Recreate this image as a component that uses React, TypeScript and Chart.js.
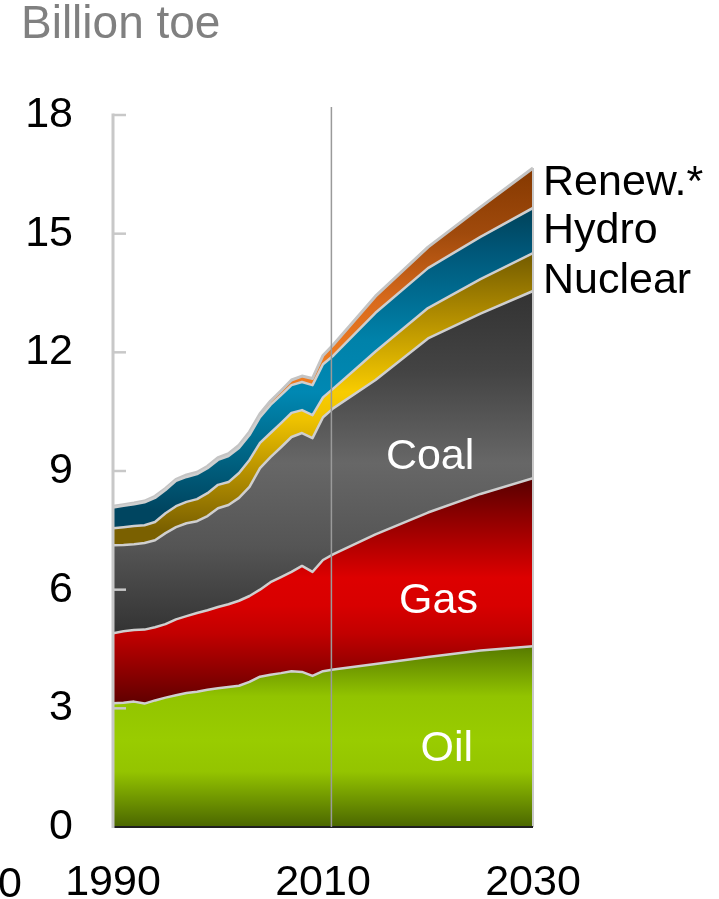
import React, { useEffect, useRef } from "react";
import { Chart, registerables } from "chart.js";

Chart.register(...registerables);

// ---------- data (billion toe) ----------
const years = [1990, 1991, 1992, 1993, 1994, 1995, 1996, 1997, 1998, 1999, 2000, 2001, 2002, 2003, 2004, 2005, 2006, 2007, 2008, 2009, 2010, 2011, 2015, 2020, 2025, 2030];
const oil = [3.13, 3.14, 3.17, 3.12, 3.2, 3.27, 3.33, 3.39, 3.42, 3.47, 3.51, 3.54, 3.57, 3.67, 3.8, 3.85, 3.89, 3.94, 3.92, 3.82, 3.94, 3.98, 4.12, 4.3, 4.46, 4.57];
const gas = [1.77, 1.81, 1.81, 1.87, 1.85, 1.86, 1.92, 1.94, 1.99, 2.01, 2.05, 2.09, 2.15, 2.17, 2.2, 2.34, 2.43, 2.51, 2.68, 2.63, 2.81, 2.92, 3.28, 3.65, 3.96, 4.25];
const coal = [2.22, 2.18, 2.17, 2.19, 2.2, 2.3, 2.33, 2.35, 2.32, 2.38, 2.5, 2.51, 2.6, 2.76, 3.07, 3.16, 3.28, 3.41, 3.36, 3.38, 3.61, 3.69, 3.9, 4.4, 4.56, 4.73];
const nuclear = [0.43, 0.45, 0.46, 0.45, 0.46, 0.5, 0.53, 0.54, 0.56, 0.58, 0.59, 0.58, 0.63, 0.68, 0.64, 0.61, 0.61, 0.61, 0.58, 0.58, 0.5, 0.5, 0.72, 0.77, 0.87, 0.96];
const hydro = [0.53, 0.54, 0.55, 0.58, 0.61, 0.59, 0.64, 0.63, 0.63, 0.63, 0.63, 0.66, 0.63, 0.63, 0.65, 0.71, 0.71, 0.7, 0.71, 0.76, 0.84, 0.83, 0.98, 1.01, 1.07, 1.14];
const renewables = [0.03, 0.03, 0.03, 0.03, 0.04, 0.04, 0.04, 0.05, 0.05, 0.05, 0.06, 0.06, 0.07, 0.08, 0.09, 0.1, 0.11, 0.13, 0.15, 0.17, 0.22, 0.28, 0.42, 0.53, 0.75, 1.01];

const xTickValues = [1990, 2010, 2030];
const yMin = 0;
const yMax = 18;
const yStep = 3;
const dividerYear = 2010.8;

const unitLabel = "Billion toe";
const seriesNames = ["Oil", "Gas", "Coal", "Nuclear", "Hydro", "Renew.*"];

const FONT = '"Liberation Sans", Arial, Helvetica, sans-serif';

// gradient stops given in value units (vertical gradient across the plot)
const gradients: [number, string][][] = [
  [[4.6, "#557800"], [3.3, "#92c400"], [2.2, "#99cc00"], [1.4, "#94c400"], [0, "#4a6600"]],
  [[8.8, "#580000"], [7.9, "#8a0000"], [6.3, "#dd0000"], [5.6, "#d80000"], [4.9, "#c20000"], [3.2, "#640000"]],
  [[13.6, "#323232"], [11.5, "#444444"], [9.2, "#676767"], [7.1, "#555555"], [4.9, "#333333"]],
  [[14.6, "#6f5800"], [13.0, "#ae8a00"], [11.0, "#f8cc00"], [10.3, "#eec200"], [9.0, "#b89200"], [7.5, "#7a6000"]],
  [[15.8, "#003f55"], [14.5, "#00587a"], [12.3, "#0082aa"], [11.0, "#0088b3"], [9.7, "#006b8c"], [8.0, "#004560"]],
  [[16.7, "#843800"], [15.0, "#a04a0c"], [13.3, "#d86a1c"], [12.0, "#ec7a22"], [9.0, "#f08020"]],
];

const seriesValues = [oil, gas, coal, nuclear, hydro, renewables];

function makeGradient(chart: any, stops: [number, string][]) {
  const { chartArea, scales } = chart;
  if (!chartArea) return "#888";
  const y = scales.y;
  const top = y.getPixelForValue(yMax);
  const bottom = y.getPixelForValue(yMin);
  const g = chart.ctx.createLinearGradient(0, top, 0, bottom);
  stops.forEach(([v, c]) => {
    const f = (y.getPixelForValue(v) - top) / (bottom - top);
    g.addColorStop(Math.min(1, Math.max(0, f)), c);
  });
  return g;
}

const overlayPlugin = {
  id: "overlay",
  afterDatasetsDraw(chart: any) {
    const { ctx, chartArea, scales } = chart;
    const x = scales.x;
    const y = scales.y;
    const last = years.length - 1;
    const total = seriesValues.reduce((s, arr) => s + arr[last], 0);
    ctx.save();

    // right edge of the stacked area
    const xr = x.getPixelForValue(years[last]);
    ctx.strokeStyle = "#c8c8c8";
    ctx.lineWidth = 2;
    ctx.beginPath();
    ctx.moveTo(xr, y.getPixelForValue(0));
    ctx.lineTo(xr, y.getPixelForValue(total));
    ctx.stroke();

    // bottom axis line
    ctx.strokeStyle = "#1f1f1f";
    ctx.lineWidth = 2;
    ctx.beginPath();
    ctx.moveTo(chartArea.left, y.getPixelForValue(0));
    ctx.lineTo(chartArea.right, y.getPixelForValue(0));
    ctx.stroke();

    // y axis line + inner ticks
    ctx.strokeStyle = "#c8c8c8";
    ctx.lineWidth = 3;
    ctx.beginPath();
    ctx.moveTo(chartArea.left, y.getPixelForValue(yMax) - 1.5);
    ctx.lineTo(chartArea.left, y.getPixelForValue(0) + 1);
    ctx.stroke();
    ctx.lineWidth = 2.5;
    y.ticks.forEach((t: any) => {
      if (t.value === 0) return;
      const py = y.getPixelForValue(t.value);
      ctx.beginPath();
      ctx.moveTo(chartArea.left, py);
      ctx.lineTo(chartArea.left + 13, py);
      ctx.stroke();
    });

    // divider between history and projection
    const xd = x.getPixelForValue(dividerYear);
    ctx.strokeStyle = "#9a9a9a";
    ctx.lineWidth = 1.5;
    ctx.beginPath();
    ctx.moveTo(xd, chartArea.top - 8);
    ctx.lineTo(xd, chartArea.bottom);
    ctx.stroke();

    // in-area labels
    ctx.font = `43px ${FONT}`;
    ctx.textBaseline = "alphabetic";
    ctx.textAlign = "center";
    ctx.fillStyle = "#ffffff";
    ctx.fillText(seriesNames[2], x.getPixelForValue(2020.2), y.getPixelForValue(9.05));
    ctx.fillText(seriesNames[1], x.getPixelForValue(2021.0), y.getPixelForValue(5.42));
    ctx.fillText(seriesNames[0], x.getPixelForValue(2021.8), y.getPixelForValue(1.68));

    // right-hand labels
    ctx.textAlign = "left";
    ctx.fillStyle = "#000000";
    const lx = chartArea.right + 10;
    ctx.fillText(seriesNames[5], lx, y.getPixelForValue(15.97));
    ctx.fillText(seriesNames[4], lx, y.getPixelForValue(14.76));
    ctx.fillText(seriesNames[3], lx, y.getPixelForValue(13.49));

    // unit label
    ctx.font = `46px ${FONT}`;
    ctx.fillStyle = "#808080";
    ctx.fillText(unitLabel, 21, 38);

    // clipped tick label from neighbouring panel
    ctx.font = `43px ${FONT}`;
    ctx.fillStyle = "#000000";
    ctx.fillText("0", -2, 897);

    ctx.restore();
  },
};

export default function App() {
  const canvasRef = useRef<HTMLCanvasElement | null>(null);

  useEffect(() => {
    const canvas = canvasRef.current;
    if (!canvas) return;
    const datasets = seriesValues.map((arr, i) => ({
      label: seriesNames[i],
      data: years.map((yr, j) => ({ x: yr, y: arr[j] })),
      fill: i === 0 ? "origin" : "-1",
      backgroundColor: (c: any) => makeGradient(c.chart, gradients[i]),
      borderColor: i === seriesValues.length - 1 ? "#c4c4c4" : "#cfcfcf",
      borderWidth: i === seriesValues.length - 1 ? 3 : 2.5,
      pointRadius: 0,
      tension: 0,
    }));
    const chart = new Chart(canvas, {
      type: "line",
      data: { datasets },
      plugins: [overlayPlugin],
      options: {
        responsive: false,
        animation: false,
        devicePixelRatio: 1,
        layout: { padding: { top: 115, right: 186, bottom: 0, left: 0 } },
        plugins: { legend: { display: false }, tooltip: { enabled: false } },
        elements: { line: { borderJoinStyle: "round" } },
        scales: {
          x: {
            type: "linear",
            min: 1990,
            max: 2030,
            afterFit: (s: any) => {
              s.height = 72;
            },
            afterBuildTicks: (s: any) => {
              s.ticks = xTickValues.map((v) => ({ value: v }));
            },
            grid: { display: false, drawTicks: false },
            border: { display: false },
            ticks: {
              autoSkip: false,
              maxRotation: 0,
              padding: 30,
              color: "#000000",
              font: { family: FONT, size: 43 },
              callback: (v: any) => String(v),
            },
          },
          y: {
            stacked: true,
            min: yMin,
            max: yMax,
            afterFit: (s: any) => {
              s.width = 113;
            },
            grid: { display: false, drawTicks: false },
            border: { display: false },
            ticks: {
              stepSize: yStep,
              padding: 40,
              color: "#000000",
              font: { family: FONT, size: 43 },
            },
          },
        },
      },
    });
    return () => chart.destroy();
  }, []);

  return (
    <div style={{ position: "fixed", left: 0, top: 0, width: 719, height: 899, background: "#ffffff" }}>
      <canvas ref={canvasRef} width={719} height={899} style={{ width: 719, height: 899, display: "block" }} />
    </div>
  );
}
